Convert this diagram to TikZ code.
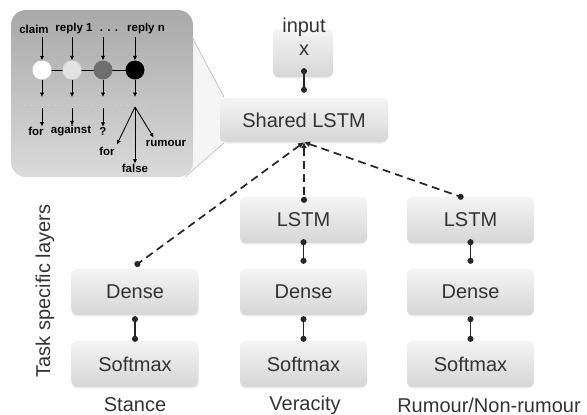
\documentclass[tikz,border=0pt]{standalone}
\usepackage{fontspec}
\setmainfont{Liberation Sans}
\usetikzlibrary{arrows.meta,shadows}
\definecolor{txt}{HTML}{333333}
\definecolor{boxtop}{HTML}{F4F4F4}
\definecolor{boxbot}{HTML}{D6D6D6}
\definecolor{insettop}{HTML}{A9A9A9}
\definecolor{insetbot}{HTML}{DADADA}
\definecolor{nodeB}{HTML}{E2E2E2}
\definecolor{nodeC}{HTML}{6E6E6E}
\begin{document}
\begin{tikzpicture}[x=1pt,y=-1pt,
  box/.style={rounded corners=6pt, top color=boxtop, bottom color=boxbot, draw=none,
    inner sep=0pt, minimum width=127pt, minimum height=46pt,
    font=\fontsize{20}{22}\selectfont, text=txt,
    drop shadow={opacity=0.12, shadow xshift=0pt, shadow yshift=-1.5pt}},
  lbl/.style={font=\fontsize{20}{22}\selectfont, text=txt, inner sep=0pt},
  conn/.style={line width=1.4pt, draw=black!85, {Circle[length=6pt]}-{Circle[length=6pt]}},
  dconn/.style={line width=1.7pt, draw=black!85, dash pattern=on 8pt off 5pt,
    {Latex[length=6pt,width=6pt]}-{Circle[length=6pt]}},
  itxt/.style={font=\fontsize{11.5}{13}\selectfont\bfseries, text=black, inner sep=0pt},
  iarr/.style={line width=0.9pt, draw=black, -{Latex[length=4.5pt,width=4.5pt]}},
  knode/.style={circle, draw=none, minimum size=19pt, inner sep=0pt}
]
\useasboundingbox (0,0) rectangle (587,415);

% magnifier wedge
\fill[gray!8] (192,37) -- (224,97) -- (224,143) -- (185,177) -- cycle;
\draw[gray!55, line width=0.6pt] (192,37) -- (224,97);
\draw[gray!55, line width=0.6pt] (185,177) -- (224,143);

% inset
\shade[top color=insettop, bottom color=insetbot, rounded corners=15pt]
  (11,10) rectangle (193,177);
\node[itxt] (tc) at (34,29) {claim};
\node[itxt] (tr1) at (74,29) {reply 1};
\node[itxt] (tdots) at (109,31) {. . .};
\node[itxt] (trn) at (146,29) {reply n};

\draw[black, line width=1pt] (42,70) -- (135,70);
\node[knode, fill=white] (k1) at (42,70) {};
\node[knode, fill=nodeB] (k2) at (72,70) {};
\node[knode, fill=nodeC] (k3) at (103,70) {};
\node[knode, fill=black] (k4) at (135,70) {};

\foreach \k in {k1,k2,k3,k4}{
  \draw[iarr] (\k |- 0,37) -- (\k.north);
  \draw[iarr] (\k.south) -- (\k |- 0,97);
}
\draw[gray!40, line width=0.8pt, dash pattern=on 3pt off 3pt] (24,105) -- (150,105);

\node[itxt] (l1) at (36,131) {for};
\node[itxt] (l2) at (71,131) {against};
\node[itxt] (l3) at (103,131) {?};
\draw[iarr] (k1 |- 0,108) -- (k1 |- l1.north);
\draw[iarr] (k2 |- 0,108) -- (k2 |- l2.north);
\draw[iarr] (k3 |- 0,108) -- (k3 |- l3.north);

\coordinate (ap) at (135,107);
\node[itxt] (lf) at (107,151) {for};
\node[itxt] (lfa) at (135,168) {false};
\node[itxt] (lr) at (166,143) {rumour};
\draw[iarr] (ap) -- ([xshift=2pt,yshift=2pt]lf.north east);
\draw[iarr] (ap) -- (lfa.north);
\draw[iarr] (ap) -- ([xshift=8pt,yshift=2pt]lr.north west);

% main nodes
\node[box, minimum width=60pt, minimum height=48pt] (in) at (303,53) {};
\node[lbl] (inl) at (304,27) {input};
\node[lbl] (inx) at (304,50) {x};
\node[box, minimum width=168pt, minimum height=44pt] (sh) at (304,120) {Shared LSTM};

\node[box] (sd) at (135,292) {Dense};
\node[box] (ss) at (135,364) {Softmax};

\node[box] (vl) at (303.5,220) {LSTM};
\node[box] (vd) at (303.5,292) {Dense};
\node[box] (vs) at (303.5,364) {Softmax};

\node[box] (rl) at (470.5,220) {LSTM};
\node[box] (rd) at (470.5,292) {Dense};
\node[box] (rs) at (470.5,364) {Softmax};

\node[lbl] (ls) at (135,405) {Stance};
\node[lbl] (lv) at (305,405) {Veracity};
\node[lbl] (lrn) at (489,405) {Rumour/Non-rumour};
\node[lbl, rotate=90] (tsl) at (45,291) {Task specific layers};

% connectors
\draw[conn] ([yshift=9pt]in.south -| sh.north) -- ([yshift=5pt]sh.north);
\draw[conn] ([yshift=4pt]vl.south) -- ([yshift=5pt]vd.north);
\draw[conn] ([yshift=4pt]rl.south) -- ([yshift=5pt]rd.north);
\draw[conn] ([yshift=-1pt]sd.south) -- ([yshift=-1pt]ss.north);
\draw[conn] ([yshift=-1pt]vd.south) -- ([yshift=-1pt]vs.north);
\draw[conn] ([yshift=-1pt]rd.south) -- ([yshift=-1pt]rs.north);

\draw[dconn] (sh.south) -- ([yshift=3pt]sd.north);
\draw[dconn] (sh.south) -- ([yshift=-6pt]vl.north -| sh.south);
\draw[dconn] (sh.south) -- ([xshift=-7pt,yshift=-1pt]rl.north);
\end{tikzpicture}
\end{document}
